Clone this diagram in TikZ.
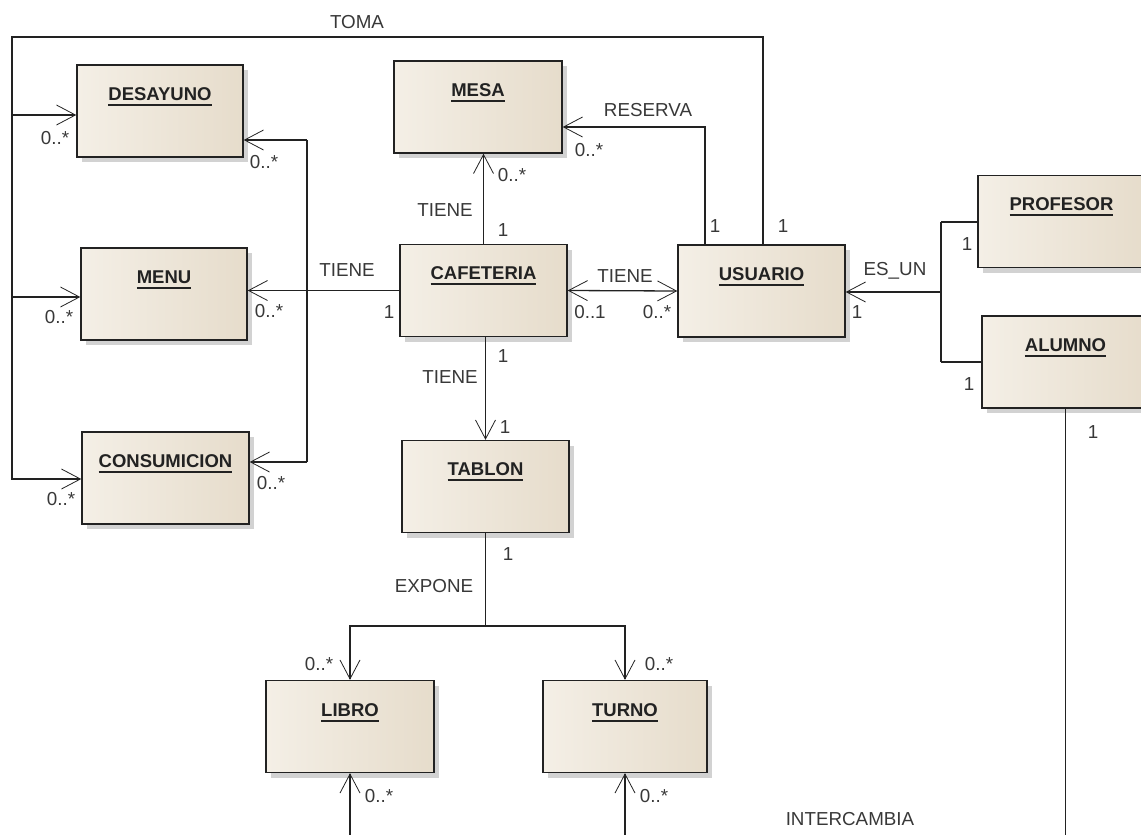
\documentclass[tikz,border=0pt]{standalone}
\usepackage{fontspec}
\setmainfont{Liberation Sans}
\usetikzlibrary{arrows.meta,shadows}
\newsavebox\ttlbox
\newcommand\boxtitle[1]{\sbox\ttlbox{\textbf{#1}}\rlap{\usebox\ttlbox}\rule[-5.5pt]{\wd\ttlbox}{1.6pt}}
\definecolor{boxL}{HTML}{F4EFE6}
\definecolor{boxR}{HTML}{E6DCCB}
\definecolor{ink}{HTML}{222222}
\tikzset{
  umlbox/.style={draw=ink, line width=1.4pt, left color=boxL, right color=boxR,
    drop shadow={shadow xshift=5pt, shadow yshift=-5pt, fill=black!35, opacity=0.5},
    inner sep=0pt, text height=35pt, text depth=57pt,
    minimum width=167pt, minimum height=92pt, font=\fontsize{18.5}{21}\selectfont, text=ink},
  lbl/.style={font=\fontsize{18.8}{21}\selectfont, text=ink!90, inner sep=0pt},
  conn/.style={draw=ink, line width=1.3pt},
  assoc/.style={conn, -{Straight Barb[length=19pt,width=20pt,line width=0.8pt]}},
  assoc2/.style={conn, {Straight Barb[length=19pt,width=20pt,line width=0.8pt]}-{Straight Barb[length=19pt,width=20pt,line width=0.8pt]}}
}
\begin{document}
\begin{tikzpicture}[x=1pt,y=-1pt]
\useasboundingbox (0,0) rectangle (1141,835);
\clip (0,0) rectangle (1141,835);

% classes
\node[umlbox, minimum width=166pt] (desayuno) at (160,111) {\boxtitle{DESAYUNO}};
\node[umlbox, minimum width=166pt] (menu) at (164,294) {\boxtitle{MENU}};
\node[umlbox] (consumicion) at (165.5,478) {\boxtitle{CONSUMICION}};
\node[umlbox, minimum width=168pt] (mesa) at (478,107) {\boxtitle{MESA}};
\node[umlbox] (cafeteria) at (483.5,290.5) {\boxtitle{CAFETERIA}};
\node[umlbox] (usuario) at (761.5,291) {\boxtitle{USUARIO}};
\node[umlbox] (profesor) at (1061.5,221.5) {\boxtitle{PROFESOR}};
\node[umlbox] (alumno) at (1065.5,362) {\boxtitle{ALUMNO}};
\node[umlbox] (tablon) at (485.5,486.5) {\boxtitle{TABLON}};
\node[umlbox, minimum width=168pt, text height=36pt, text depth=56pt] (libro) at (350,726.5) {\boxtitle{LIBRO}};
\node[umlbox, minimum width=164pt, text height=36pt, text depth=56pt] (turno) at (625,726.5) {\boxtitle{TURNO}};

% TOMA
\coordinate (tomaTR) at (763,37);
\coordinate (tomaTL) at (12,37);
\coordinate (tomaBL) at (12,479);
\coordinate (tomaD) at (12,115);
\coordinate (tomaM) at (12,297);
\draw[assoc] (usuario.north -| tomaTR) -- (tomaTR) -- (tomaTL) -- (tomaBL) -- (consumicion.west |- tomaBL);
\draw[assoc] (tomaD) -- (desayuno.west |- tomaD);
\draw[assoc] (tomaM) -- (menu.west |- tomaM);

% CAFETERIA TIENE (menu side)
\coordinate (cT) at (307,140);
\coordinate (cB) at (307,462);
\draw[assoc] (cafeteria.west) -- (menu.east |- cafeteria.west);
\draw[conn] (cT) -- (cB);
\draw[assoc] (cT) -- (desayuno.east |- cT);
\draw[assoc] (cB) -- (consumicion.east |- cB);

% MESA TIENE
\draw[assoc] (cafeteria.north) -- (mesa.south -| cafeteria.north);

% RESERVA
\coordinate (res) at (705,127);
\draw[assoc] (usuario.north -| res) -- (res) -- (mesa.east |- res);

% CAFETERIA - USUARIO
\draw[assoc2] (cafeteria.east) -- (usuario.west);

% ES_UN
\coordinate (esun) at (941,292);
\coordinate (esP) at (941,222);
\coordinate (esA) at (941,362);
\draw[assoc] (esun) -- (usuario.east |- esun);
\draw[conn] (esP) -- (esA);
\draw[conn] (esP) -- (profesor.west |- esP);
\draw[conn] (esA) -- (alumno.west |- esA);

% ALUMNO down
\coordinate (alb) at (1066,840);
\draw[conn] (alumno.south) -- (alumno.south |- alb);

% TABLON
\draw[assoc] (cafeteria.south -| tablon.north) -- (tablon.north);

% EXPONE
\coordinate (exp) at (487,626);
\draw[conn] (tablon.south) -- (tablon.south |- exp);
\draw[assoc] (tablon.south |- exp) -| (libro.north);
\draw[assoc] (tablon.south |- exp) -| (turno.north);

% INTERCAMBIA ends
\coordinate (lb) at (350,840);
\coordinate (tb) at (625,840);
\draw[assoc] (lb) -- (libro.south);
\draw[assoc] (tb) -- (turno.south);

% labels
\node[lbl] (t1) at (357,22) {TOMA};
\node[lbl] (t2) at (55,138) {0..*};
\node[lbl] (t3) at (264,162) {0..*};
\node[lbl] (t4) at (347,270) {TIENE};
\node[lbl] (t5) at (269,311) {0..*};
\node[lbl] (t6) at (59,317) {0..*};
\node[lbl] (t7) at (389,312) {1};
\node[lbl] (t8) at (271,483) {0..*};
\node[lbl] (t9) at (61,499) {0..*};
\node[lbl] (t10) at (512,175) {0..*};
\node[lbl] (t11) at (445,210) {TIENE};
\node[lbl] (t12) at (503,230) {1};
\node[lbl] (t13) at (648,110) {RESERVA};
\node[lbl] (t14) at (589,150) {0..*};
\node[lbl] (t15) at (715,226) {1};
\node[lbl] (t16) at (783,226) {1};
\node[lbl] (t17) at (625,276) {TIENE};
\node[lbl] (t18) at (590,312) {0..1};
\node[lbl] (t19) at (657,312) {0..*};
\node[lbl] (t20) at (895,271) {ES\_UN};
\node[lbl] (t21) at (857,312) {1};
\node[lbl] (t22) at (967,244) {1};
\node[lbl] (t23) at (969,384) {1};
\node[lbl] (t24) at (1093,432) {1};
\node[lbl] (t25) at (503,356) {1};
\node[lbl] (t26) at (450,377) {TIENE};
\node[lbl] (t27) at (505,427) {1};
\node[lbl] (t28) at (508,554) {1};
\node[lbl] (t29) at (434,586) {EXPONE};
\node[lbl] (t30) at (319,664) {0..*};
\node[lbl] (t31) at (659,664) {0..*};
\node[lbl] (t32) at (379,796) {0..*};
\node[lbl] (t33) at (654,796) {0..*};
\node[lbl] (t34) at (850,819) {INTERCAMBIA};
\end{tikzpicture}
\end{document}
